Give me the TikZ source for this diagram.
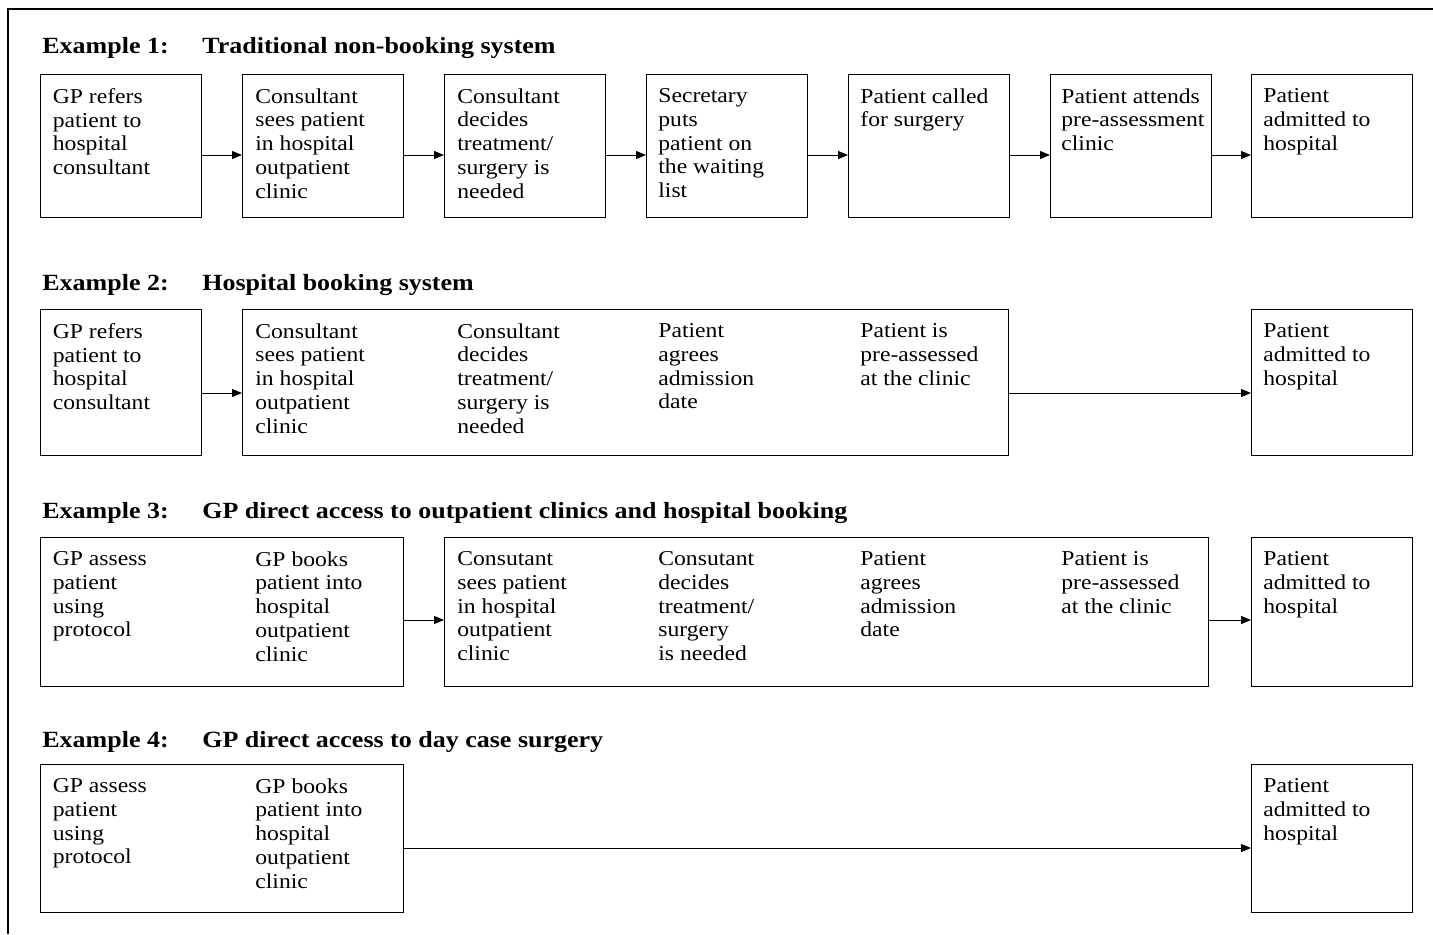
\documentclass[tikz,border=0pt]{standalone}
\usepackage{fontspec}
\usetikzlibrary{arrows.meta}
\newfontfamily\boxfont[FakeStretch=1.115]{Liberation Serif}
\newfontfamily\headfont[FakeStretch=1.12]{Liberation Serif}

\begin{document}
\begin{tikzpicture}[x=0.5pt, y=-0.5pt,
    stage/.style={draw, line width=0.65pt, inner sep=0, anchor=north west,
      minimum width=80.5pt},
    txt/.style={anchor=north west, inner sep=0, align=left,
      font=\boxfont\fontsize{10.6}{11.9}\selectfont, execute at begin node=\strut},
    head/.style={anchor=base west, inner sep=0,
      font=\headfont\bfseries\fontsize{11.6}{13}\selectfont},
    flow/.style={line width=0.5pt, -{Triangle[length=5pt, width=4pt]}}]
      \useasboundingbox (0,0) rectangle (1433,934);

      % Frame
      \draw[line width=0.75pt] (1433,9) -- (8,9) -- (8,934);

      % Example 1
      \node[head] (t1a) at (42,53) {Example 1:};
      \node[head] (t1b) at (202,53) {Traditional non-booking system};
      \node[stage, minimum height=71.5pt] (r1a) at (40,74) {};
      \node[stage, minimum height=71.5pt] (r1b) at (242,74) {};
      \node[stage, minimum height=71.5pt] (r1c) at (444,74) {};
      \node[stage, minimum height=71.5pt] (r1d) at (646,74) {};
      \node[stage, minimum height=71.5pt] (r1e) at (848,74) {};
      \node[stage, minimum height=71.5pt] (r1f) at (1050,74) {};
      \node[stage, minimum height=71.5pt] (r1g) at (1251,74) {};
      \node[txt] (x1a) at (52.5,88) {GP refers\\patient to\\hospital\\consultant};
      \node[txt] (x1b) at (255,88) {Consultant\\sees patient\\in hospital\\outpatient\\clinic};
      \node[txt] (x1c) at (457,88) {Consultant\\decides\\treatment/\\surgery is\\needed};
      \node[txt] (x1d) at (658,88) {Secretary\\puts\\patient on\\the waiting\\list};
      \node[txt] (x1e) at (860,88) {Patient called\\for surgery};
      \node[txt] (x1f) at (1061,88) {Patient attends\\pre-assessment\\clinic};
      \node[txt] (x1g) at (1263,88) {Patient\\admitted to\\hospital};
      \draw[flow] ([yshift=-40.5pt]r1a.north east) -- ([yshift=-40.5pt]r1b.north west);
      \draw[flow] ([yshift=-40.5pt]r1b.north east) -- ([yshift=-40.5pt]r1c.north west);
      \draw[flow] ([yshift=-40.5pt]r1c.north east) -- ([yshift=-40.5pt]r1d.north west);
      \draw[flow] ([yshift=-40.5pt]r1d.north east) -- ([yshift=-40.5pt]r1e.north west);
      \draw[flow] ([yshift=-40.5pt]r1e.north east) -- ([yshift=-40.5pt]r1f.north west);
      \draw[flow] ([yshift=-40.5pt]r1f.north east) -- ([yshift=-40.5pt]r1g.north west);

      % Example 2
      \node[head] (t2a) at (42,290) {Example 2:};
      \node[head] (t2b) at (202,290) {Hospital booking system};
      \node[stage, minimum height=73pt] (r2a) at (40,309) {};
      \node[stage, minimum height=73pt, minimum width=383pt] (r2b) at (242,309) {};
      \node[stage, minimum height=73pt] (r2c) at (1251,309) {};
      \node[txt] (x2a) at (52.5,323) {GP refers\\patient to\\hospital\\consultant};
      \node[txt] (x2b) at (255,323) {Consultant\\sees patient\\in hospital\\outpatient\\clinic};
      \node[txt] (x2c) at (457,323) {Consultant\\decides\\treatment/\\surgery is\\needed};
      \node[txt] (x2d) at (658,323) {Patient\\agrees\\admission\\date};
      \node[txt] (x2e) at (860,323) {Patient is\\pre-assessed\\at the clinic};
      \node[txt] (x2f) at (1263,323) {Patient\\admitted to\\hospital};
      \draw[flow] ([yshift=-42pt]r2a.north east) -- ([yshift=-42pt]r2b.north west);
      \draw[flow] ([yshift=-42pt]r2b.north east) -- ([yshift=-42pt]r2c.north west);

      % Example 3
      \node[head] (t3a) at (42,518) {Example 3:};
      \node[head] (t3b) at (202,518) {GP direct access to outpatient clinics and hospital booking};
      \node[stage, minimum height=74.5pt, minimum width=181.5pt] (r3a) at (40,537) {};
      \node[stage, minimum height=74.5pt, minimum width=382pt] (r3b) at (444,537) {};
      \node[stage, minimum height=74.5pt] (r3c) at (1251,537) {};
      \node[txt] (x3a) at (52.5,551) {GP assess\\patient\\using\\protocol};
      \node[txt] (x3b) at (255,551) {GP books\\patient into\\hospital\\outpatient\\clinic};
      \node[txt] (x3c) at (457,551) {Consutant\\sees patient\\in hospital\\outpatient\\clinic};
      \node[txt] (x3d) at (658,551) {Consutant\\decides\\treatment/\\surgery\\is needed};
      \node[txt] (x3e) at (860,551) {Patient\\agrees\\admission\\date};
      \node[txt] (x3f) at (1061,551) {Patient is\\pre-assessed\\at the clinic};
      \node[txt] (x3g) at (1263,551) {Patient\\admitted to\\hospital};
      \draw[flow] ([yshift=-41.5pt]r3a.north east) -- ([yshift=-41.5pt]r3b.north west);
      \draw[flow] ([yshift=-41.5pt]r3b.north east) -- ([yshift=-41.5pt]r3c.north west);

      % Example 4
      \node[head] (t4a) at (42,747) {Example 4:};
      \node[head] (t4b) at (202,747) {GP direct access to day case surgery};
      \node[stage, minimum height=74pt, minimum width=181.5pt] (r4a) at (40,764) {};
      \node[stage, minimum height=74pt] (r4b) at (1251,764) {};
      \node[txt] (x4a) at (52.5,778) {GP assess\\patient\\using\\protocol};
      \node[txt] (x4b) at (255,778) {GP books\\patient into\\hospital\\outpatient\\clinic};
      \node[txt] (x4c) at (1263,778) {Patient\\admitted to\\hospital};
      \draw[flow] ([yshift=-42pt]r4a.north east) -- ([yshift=-42pt]r4b.north west);
\end{tikzpicture}
\end{document}
